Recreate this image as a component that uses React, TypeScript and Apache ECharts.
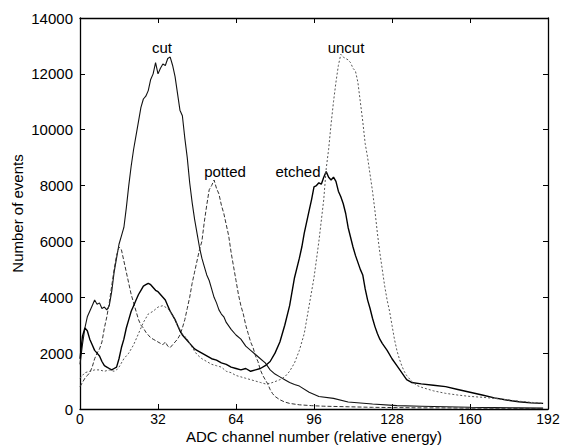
import React, { useEffect, useRef } from "react";
import * as echarts from "echarts";

const xTicks = [0, 32, 64, 96, 128, 160, 192];
const yTicks = [0, 2000, 4000, 6000, 8000, 10000, 12000, 14000];

const cutX = [0, 1, 2, 3, 4, 5, 6, 7, 8, 9, 10, 11, 12, 13, 14, 15, 16, 17, 18, 19, 20, 21, 22, 23, 24, 25, 26, 27, 28, 29, 30, 31, 32, 33, 34, 35, 36, 37, 38, 39, 40, 41, 42, 43, 44, 45, 46, 47, 48, 49, 50, 51, 52, 53, 54, 55, 56, 57, 58, 59, 60, 62, 64, 66, 68, 70, 72, 74, 76, 78, 80, 82, 84, 86, 88, 90, 94, 98, 104, 110, 120, 130, 140, 150, 160, 170, 180, 190];
const cutY = [1600, 2300, 2900, 3300, 3500, 3700, 3900, 3750, 3800, 3600, 3650, 3550, 3700, 4200, 4900, 5400, 5900, 6200, 6500, 7200, 8000, 8700, 9300, 9800, 10300, 10800, 11100, 11200, 11400, 11800, 12000, 12400, 12000, 12200, 12350, 12300, 12550, 12600, 12300, 11900, 11300, 10700, 10500, 9700, 9000, 8100, 7400, 6800, 6300, 5800, 5400, 5100, 4800, 4600, 4300, 4000, 3800, 3550, 3400, 3300, 3100, 2850, 2650, 2500, 2250, 2100, 1950, 1800, 1650, 1400, 1250, 1150, 1050, 950, 880, 820, 600, 450, 380, 250, 180, 120, 100, 80, 60, 50, 40, 30];

const pottedX = [0, 1, 2, 3, 4, 5, 6, 7, 8, 9, 10, 11, 12, 13, 14, 15, 16, 17, 18, 19, 20, 21, 22, 23, 24, 25, 26, 27, 28, 29, 30, 31, 32, 33, 34, 35, 36, 37, 38, 39, 40, 41, 42, 43, 44, 45, 46, 47, 48, 49, 50, 51, 52, 53, 54, 55, 56, 57, 58, 59, 60, 61, 62, 63, 64, 65, 66, 67, 68, 69, 70, 71, 72, 73, 74, 75, 76, 77, 78, 79, 80, 82, 84, 86, 90, 95, 100, 110, 120, 130, 140, 150, 160, 170, 180, 190];
const pottedY = [800, 950, 1100, 1200, 1300, 1500, 1800, 2000, 2150, 2400, 2900, 3300, 3800, 4400, 5000, 5500, 5800, 5700, 5300, 4900, 4500, 4100, 3800, 3500, 3200, 3000, 2900, 2750, 2650, 2550, 2500, 2450, 2400, 2350, 2300, 2400, 2250, 2200, 2300, 2400, 2500, 2650, 2900, 3200, 3600, 4000, 4500, 4900, 5300, 5700, 6000, 6700, 7300, 7850, 8000, 8200, 7900, 7700, 7300, 7000, 6600, 6200, 5600, 5100, 4600, 4100, 3700, 3400, 3000, 2700, 2400, 2200, 1900, 1700, 1400, 1200, 1050, 900, 700, 550, 450, 330, 250, 200, 150, 120, 100, 80, 60, 50, 40, 40, 30, 30, 20, 20];

const etchedX = [0, 1, 2, 3, 4, 5, 6, 7, 8, 9, 10, 11, 12, 13, 14, 15, 16, 17, 18, 19, 20, 21, 22, 23, 24, 25, 26, 27, 28, 29, 30, 31, 32, 33, 34, 35, 36, 37, 38, 39, 40, 41, 42, 43, 44, 45, 46, 47, 48, 50, 52, 54, 56, 58, 60, 62, 64, 66, 68, 70, 72, 74, 76, 78, 80, 82, 84, 86, 88, 90, 91, 92, 93, 94, 95, 96, 97, 98, 99, 100, 101, 102, 103, 104, 105, 106, 107, 108, 109, 110, 111, 112, 113, 114, 115, 116, 117, 118, 119, 120, 121, 122, 123, 124, 126, 128, 130, 132, 134, 136, 140, 145, 150, 155, 160, 165, 170, 175, 180, 185, 190];
const etchedY = [1800, 2600, 2900, 2800, 2500, 2300, 2100, 2000, 1900, 1700, 1550, 1500, 1450, 1400, 1450, 1500, 1800, 2200, 2500, 2900, 3200, 3500, 3700, 3900, 4100, 4250, 4400, 4450, 4500, 4450, 4350, 4250, 4200, 4100, 4000, 3900, 3700, 3500, 3350, 3200, 3000, 2800, 2650, 2550, 2450, 2350, 2250, 2150, 2100, 2000, 1900, 1800, 1750, 1650, 1600, 1500, 1450, 1400, 1450, 1350, 1400, 1450, 1550, 1700, 2000, 2400, 3000, 3700, 4700, 5400, 5800, 6300, 6700, 7100, 7500, 7950, 8000, 8100, 8050, 8300, 8500, 8300, 8200, 8300, 8150, 7800, 7600, 7350, 7000, 6500, 6150, 5800, 5500, 5250, 5000, 4800, 4300, 3900, 3600, 3250, 2950, 2700, 2500, 2350, 2100, 1800, 1550, 1300, 1050, 950, 900, 850, 800, 700, 600, 500, 400, 320, 260, 220, 200];

const uncutX = [0, 2, 4, 6, 8, 10, 12, 14, 15, 16, 18, 20, 22, 24, 26, 28, 30, 32, 34, 36, 38, 40, 42, 44, 46, 48, 50, 52, 54, 56, 58, 60, 62, 64, 66, 68, 70, 72, 74, 76, 78, 80, 82, 84, 86, 88, 90, 92, 94, 96, 98, 100, 101, 102, 103, 104, 105, 106, 107, 108, 109, 110, 111, 112, 113, 114, 115, 116, 117, 118, 119, 120, 121, 122, 123, 124, 125, 126, 127, 128, 129, 130, 131, 132, 133, 134, 136, 138, 140, 145, 150, 155, 160, 165, 170, 175, 180, 185, 190];
const uncutY = [1100, 1300, 1350, 1400, 1400, 1350, 1400, 1350, 1400, 1500, 1800, 2000, 2300, 2700, 3100, 3400, 3500, 3650, 3700, 3600, 3350, 3000, 2700, 2500, 2200, 1950, 1800, 1700, 1600, 1550, 1500, 1350, 1300, 1200, 1150, 1100, 1050, 1000, 950, 900, 920, 980, 1050, 1150, 1350, 1650, 2100, 2700, 3700, 4700, 6000, 7500, 8600, 9300, 10200, 11000, 11700, 12300, 12700, 12600, 12550, 12500, 12400, 12200, 12100, 11700, 11000, 10300, 9500, 9000, 8400, 7800, 7100, 6300, 5600, 5000, 4400, 3900, 3500, 3000, 2500, 2100, 1800, 1550, 1350, 1200, 1000, 850, 780, 650, 560, 500, 450, 420, 380, 330, 280, 240, 200];

const zip = (xs: number[], ys: number[]) => xs.map((x, i) => [x, ys[i]]);

const FONT = "'Liberation Sans', Arial, Helvetica, sans-serif";

export default function App() {
  const ref = useRef<HTMLDivElement>(null);
  useEffect(() => {
    if (!ref.current) return;
    const chart = echarts.init(ref.current, undefined, { renderer: "svg" });
    const axisLine = { show: true, onZero: false, lineStyle: { color: "#000", width: 1.3 } };
    const tick = { show: true, inside: true, length: 5, lineStyle: { color: "#000", width: 1 } };
    const plain = (v: number) => String(v);
    chart.setOption({
      animation: false,
      backgroundColor: "#fff",
      grid: { left: 80, right: 15, top: 18, bottom: 37, show: false, containLabel: false, outerBoundsMode: "none" },
      xAxis: [
        {
          type: "value",
          min: xTicks[0],
          max: xTicks[xTicks.length - 1],
          interval: 32,
          position: "bottom",
          axisLine,
          axisTick: tick,
          splitLine: { show: false },
          axisLabel: { color: "#000", fontSize: 14, fontFamily: FONT, margin: 2, lineHeight: 15, formatter: plain },
          name: "ADC channel number (relative energy)",
          nameLocation: "middle",
          nameGap: 19,
          nameMoveOverlap: false,
          nameTextStyle: { color: "#000", fontSize: 15, fontFamily: FONT, lineHeight: 17 },
        },
        {
          type: "value",
          min: xTicks[0],
          max: xTicks[xTicks.length - 1],
          interval: 32,
          position: "top",
          axisLine,
          axisTick: tick,
          splitLine: { show: false },
          axisLabel: { show: false },
        },
      ],
      yAxis: [
        {
          type: "value",
          min: yTicks[0],
          max: yTicks[yTicks.length - 1],
          interval: 2000,
          position: "left",
          axisLine,
          axisTick: tick,
          splitLine: { show: false },
          axisLabel: { color: "#000", fontSize: 15, fontFamily: FONT, margin: 7, formatter: plain },
          name: "Number of events",
          nameLocation: "middle",
          nameGap: 55,
          nameMoveOverlap: false,
          nameTextStyle: { color: "#000", fontSize: 15, fontFamily: FONT },
        },
        {
          type: "value",
          min: yTicks[0],
          max: yTicks[yTicks.length - 1],
          interval: 2000,
          position: "right",
          axisLine,
          axisTick: tick,
          splitLine: { show: false },
          axisLabel: { show: false },
        },
      ],
      series: [
        {
          name: "cut",
          type: "line",
          data: zip(cutX, cutY),
          showSymbol: false,
          lineStyle: { color: "#111", width: 1.1 },
        },
        {
          name: "potted",
          type: "line",
          data: zip(pottedX, pottedY),
          showSymbol: false,
          lineStyle: { color: "#333", width: 1, type: [4, 2] },
        },
        {
          name: "etched",
          type: "line",
          data: zip(etchedX, etchedY),
          showSymbol: false,
          lineStyle: { color: "#000", width: 1.4 },
        },
        {
          name: "uncut",
          type: "line",
          data: zip(uncutX, uncutY),
          showSymbol: false,
          lineStyle: { color: "#555", width: 1, type: [2, 2] },
        },
      ],
      graphic: [
        { type: "text", x: 162, y: 47, style: { text: "cut", fontSize: 15, fontFamily: FONT, fill: "#000", align: "center", verticalAlign: "middle" } },
        { type: "text", x: 225, y: 171, style: { text: "potted", fontSize: 15, fontFamily: FONT, fill: "#000", align: "center", verticalAlign: "middle" } },
        { type: "text", x: 298, y: 171, style: { text: "etched", fontSize: 15, fontFamily: FONT, fill: "#000", align: "center", verticalAlign: "middle" } },
        { type: "text", x: 346, y: 47, style: { text: "uncut", fontSize: 15, fontFamily: FONT, fill: "#000", align: "center", verticalAlign: "middle" } },
      ],
    });
    return () => chart.dispose();
  }, []);
  return (
    <div
      ref={ref}
      style={{ position: "fixed", left: 0, top: 0, width: 563, height: 446, background: "#fff" }}
    />
  );
}
